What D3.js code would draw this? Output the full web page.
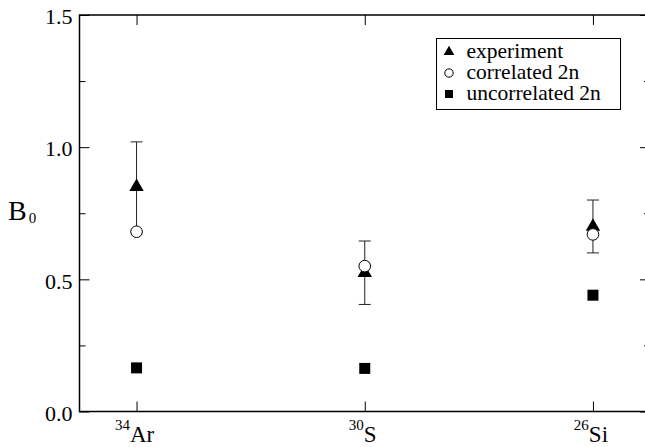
<!DOCTYPE html>
<html>
<head>
  <meta charset="utf-8" />
  <title>B0</title>
  <style>
    body { margin: 0; background: #ffffff; }
    text { font-family: "Liberation Serif", "DejaVu Serif", "Times New Roman", Times, serif !important; fill: #000; }
  </style>
  <script src="https://cdnjs.cloudflare.com/ajax/libs/d3/7.8.5/d3.min.js"></script>
</head>
<body>
  <div id="chart"></div>
  <script>
    // nuclei: mass number + symbol
    var nuclei = ["34Ar", "30S", "26Si"];
    var massNumbers = ["34", "30", "26"];
    var elements = ["Ar", "S", "Si"];
    var experiment = [0.85, 0.525, 0.70];
    var expError = [0.17, 0.12, 0.10];
    var correlated = [0.68, 0.55, 0.67];
    var uncorrelated = [0.165, 0.163, 0.44];
    var yMajor = [0, 0.5, 1.0, 1.5];
    var yMinor = [0.25, 0.75, 1.25];
    var legendLabels = ["experiment", "correlated 2n", "uncorrelated 2n"];

    var W = 645, H = 447;
    var margin = { top: 15, right: -5, bottom: 36, left: 79.5 };
    var serif = "'Liberation Serif', 'DejaVu Serif', serif";

    var svg = d3.select("#chart").append("svg")
      .attr("width", W).attr("height", H)
      .attr("font-family", serif);

    var x = d3.scaleLinear().domain([0.75, 3.25]).range([margin.left, W - margin.right]);
    var y = d3.scaleLinear().domain([0, 1.5]).range([H - margin.bottom + 0.5, margin.top]);

    var idx = nuclei.map(function (d, i) { return i + 1; });

    // frame
    svg.append("rect")
      .attr("x", x(0.75)).attr("y", y(1.5))
      .attr("width", x(3.25) - x(0.75)).attr("height", y(0) - y(1.5))
      .attr("fill", "none").attr("stroke", "#000").attr("stroke-width", 1.5);

    function noLabels(g) { g.selectAll("text").remove(); g.select(".domain").remove(); }

    // left axis
    svg.append("g").attr("transform", "translate(" + x(0.75) + ",0)")
      .call(d3.axisLeft(y).tickValues(yMajor).tickSize(-10).tickSizeOuter(0).tickPadding(7)
        .tickFormat(d3.format(".1f")))
      .call(function (g) {
        g.attr("font-family", serif).attr("font-size", 22);
        g.select(".domain").remove();
        g.selectAll("text").attr("dy", "0.4em");
        g.selectAll("line").attr("stroke-width", 1);
      });
    svg.append("g").attr("transform", "translate(" + x(0.75) + ",0)")
      .call(d3.axisLeft(y).tickValues(yMinor).tickSize(-6).tickSizeOuter(0))
      .call(noLabels);

    // right axis
    svg.append("g").attr("transform", "translate(" + x(3.25) + ",0)")
      .call(d3.axisRight(y).tickValues(yMajor).tickSize(-10).tickSizeOuter(0))
      .call(noLabels);
    svg.append("g").attr("transform", "translate(" + x(3.25) + ",0)")
      .call(d3.axisRight(y).tickValues(yMinor).tickSize(-6).tickSizeOuter(0))
      .call(noLabels);

    // bottom / top axes
    svg.append("g").attr("transform", "translate(0," + y(0) + ")")
      .call(d3.axisBottom(x).tickValues(idx).tickSize(-10).tickSizeOuter(0))
      .call(noLabels);
    svg.append("g").attr("transform", "translate(0," + y(1.5) + ")")
      .call(d3.axisTop(x).tickValues(idx).tickSize(-10).tickSizeOuter(0))
      .call(noLabels);

    // x labels with superscript mass numbers
    var xl = svg.append("g").selectAll("text").data(idx).enter().append("text")
      .attr("x", function (d) { return x(d) - 2; })
      .attr("y", 442)
      .attr("text-anchor", "middle");
    xl.append("tspan").attr("font-size", 15).attr("dy", -12)
      .text(function (d, i) { return massNumbers[i]; });
    xl.append("tspan").attr("font-size", 23).attr("dy", 12)
      .text(function (d, i) { return elements[i]; });

    // y title
    var yt = svg.append("text").attr("x", 8).attr("y", 220);
    yt.append("tspan").attr("font-size", 28).text("B");
    yt.append("tspan").attr("font-size", 15).attr("dx", 2).attr("dy", 3).text("0");

    // error bars
    var eb = svg.append("g").attr("stroke", "#222").attr("stroke-width", 1);
    idx.forEach(function (d, i) {
      var lo = y(experiment[i] - expError[i]), hi = y(experiment[i] + expError[i]);
      eb.append("line").attr("x1", x(d)).attr("x2", x(d)).attr("y1", lo).attr("y2", hi);
      eb.append("line").attr("x1", x(d) - 6).attr("x2", x(d) + 6).attr("y1", lo).attr("y2", lo);
      eb.append("line").attr("x1", x(d) - 6).attr("x2", x(d) + 6).attr("y1", hi).attr("y2", hi);
    });

    var tri = d3.symbol().type(d3.symbolTriangle);

    // experiment
    svg.append("g").selectAll("path").data(experiment).enter().append("path")
      .attr("d", tri.size(90)())
      .attr("transform", function (d, i) { return "translate(" + x(i + 1) + "," + y(d) + ")"; })
      .attr("fill", "#000");

    // correlated 2n
    svg.append("g").selectAll("circle").data(correlated).enter().append("circle")
      .attr("cx", function (d, i) { return x(i + 1); })
      .attr("cy", function (d) { return y(d); })
      .attr("r", 5.8)
      .attr("fill", "#fff").attr("stroke", "#000").attr("stroke-width", 1);

    // uncorrelated 2n
    svg.append("g").selectAll("rect").data(uncorrelated).enter().append("rect")
      .attr("x", function (d, i) { return x(i + 1) - 5.5; })
      .attr("y", function (d) { return y(d) - 5.5; })
      .attr("width", 11).attr("height", 11)
      .attr("fill", "#000");

    // legend
    var lg = svg.append("g");
    lg.append("rect").attr("x", 436.5).attr("y", 38.5).attr("width", 184).attr("height", 71)
      .attr("fill", "#fff").attr("stroke", "#000").attr("stroke-width", 1);
    var rowY = [52, 73, 94];
    lg.append("path").attr("d", tri.size(50)())
      .attr("transform", "translate(449," + rowY[0] + ")").attr("fill", "#000");
    lg.append("circle").attr("cx", 449).attr("cy", rowY[1]).attr("r", 4.2)
      .attr("fill", "#fff").attr("stroke", "#000");
    lg.append("rect").attr("x", 445).attr("y", rowY[2] - 4).attr("width", 8).attr("height", 8)
      .attr("fill", "#000");
    lg.selectAll("text.lab").data(legendLabels).enter().append("text")
      .attr("class", "lab")
      .attr("x", 466.5)
      .attr("y", function (d, i) { return rowY[i] + 6; })
      .attr("font-size", 21.5)
      .text(function (d) { return d; });
  </script>
</body>
</html>
